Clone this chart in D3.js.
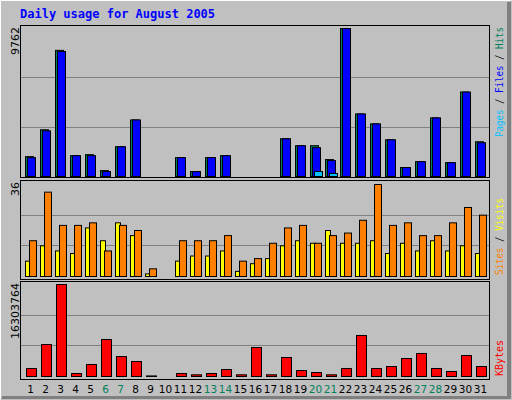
<!DOCTYPE html>
<html><head><meta charset="utf-8">
<script src="https://cdn.jsdelivr.net/npm/d3@7"></script>
<style>body{margin:0}svg{display:block}</style></head>
<body><svg id="c" width="512" height="400"></svg>
<script>
const days = d3.range(1, 32);
const weekends = [6,7,13,14,20,21,27,28];
const hits  = [1310,3080,8320,1375,1440,390,1965,3730,0,null,1245,330,1245,1375,0,0,0,2490,2030,2030,1115,9762,4125,3470,2420,590,980,3865,915,5570,2290];
const files = [1245,3015,8250,1375,1375,330,1965,3730,0,null,1245,330,1245,1375,0,0,0,2490,2030,1900,1050,9762,4125,3470,2420,590,980,3865,915,5570,2230];
const pages = [0,0,0,0,0,0,0,0,0,null,0,0,0,0,0,0,0,0,0,330,200,0,0,0,0,0,0,0,0,0,0];
const visitsY = [6,12,10,9,19,14,21,16,1,null,6,8,8,10,2,5,7,12,14,13,18,13,13,14,9,13,10,14,10,12,9];
const sitesO  = [14,33,20,20,21,10,20,18,3,null,14,14,14,16,6,7,13,19,20,13,16,17,22,36,20,21,16,16,21,27,24];
const kbytes  = [1420000,5670000,16303764,530000,2130000,6560000,3540000,2660000,100000,null,530000,300000,530000,1240000,300000,5140000,300000,3370000,1060000,710000,300000,1420000,7270000,1420000,1770000,3190000,4080000,1420000,890000,3720000,1770000];

const svg = d3.select("#c");
svg.append("rect").attr("width",512).attr("height",400).attr("fill","#C0C0C0");
svg.append("path").attr("d","M0.5,399.5V0.5H511.5").attr("stroke","#fff").attr("fill","none");
svg.append("path").attr("d","M1.5,398.5H510.5V1.5").attr("stroke","#808080").attr("fill","none");
svg.append("rect").attr("x",507).attr("y",2).attr("width",4).attr("height",396).attr("fill","#808080");
svg.append("rect").attr("x",2).attr("y",396).attr("width",508).attr("height",3).attr("fill","#808080");
svg.append("text").attr("x",20).attr("y",18).text("Daily usage for August 2005")
  .attr("font-family","DejaVu Sans Mono").attr("font-weight","bold").attr("font-size",12).attr("fill","#0000FF");

const x = d3.scaleBand().domain(days).range([22,487]).paddingInner(0);
const panels = [{y0:25,y1:177},{y0:180,y1:279},{y0:281,y1:379}];
panels.forEach(p=>{
  svg.append("rect").attr("x",20.5).attr("y",p.y0+0.5).attr("width",469).attr("height",p.y1-p.y0)
   .attr("fill","#C0C0C0").attr("stroke","#000");
});
function grid(base,top){
  [1/3,2/3].forEach(f=>{
    const yy=Math.round(base-(base-top)*f)+0.5;
    svg.append("line").attr("x1",21).attr("x2",489).attr("y1",yy).attr("y2",yy).attr("stroke","#808080");
  });
}
function bars(data, scale, dx, w, color){
  svg.append("g").selectAll("rect").data(days.filter(d=>data[d-1]!=null)).join("rect")
    .attr("x",d=>x(d)+dx+0.5).attr("width",w)
    .attr("y",d=>scale(data[d-1])+0.5).attr("height",d=>Math.max(0,scale(0)-scale(data[d-1])))
    .attr("fill",color).attr("stroke","#000");
}
const yT = d3.scaleLinear().domain([0,9762]).range([176,28]);
grid(176,28);
bars(hits,yT,3,8,"#00805C");
bars(files,yT,5,8,"#0000FF");
bars(pages,yT,7,8,"#00C0FF");
const yM = d3.scaleLinear().domain([0,36]).range([276,184]);
grid(276,184);
bars(visitsY,yM,3,5,"#FFFF00");
bars(sitesO,yM,7,7,"#FF8000");
const yB = d3.scaleLinear().domain([0,16303764]).range([376,284]);
grid(376,284);
bars(kbytes,yB,4,10,"#FF0000");
function leftLab(t,yTop){
  svg.append("text").attr("transform",`translate(19,${yTop}) rotate(-90)`).attr("text-anchor","end")
   .attr("font-family","DejaVu Sans").attr("font-size",11).attr("fill","#000").text(t);
}
leftLab("9762",27); leftLab("36",182); leftLab("16303764",283);
function rightLab(parts,yBottom,len){
  const t=svg.append("text").attr("transform",`translate(503,${yBottom}) rotate(-90)`)
   .attr("font-family","DejaVu Sans Mono").attr("font-size",11)
   .attr("textLength",len).attr("lengthAdjust","spacingAndGlyphs");
  parts.forEach(p=>t.append("tspan").attr("fill",p[1]).text(p[0]));
}
rightLab([["Pages","#00C0FF"],[" / ","#000"],["Files","#0000FF"],[" / ","#000"],["Hits","#00805C"]],137,110);
rightLab([["Sites","#FF8000"],[" / ","#000"],["Visits","#FFFF00"]],275,77);
rightLab([["KBytes","#FF0000"]],376,36);
svg.append("g").selectAll("text").data(days).join("text")
  .attr("x",d=>x(d)+x.bandwidth()/2+1).attr("y",393).attr("text-anchor","middle")
  .attr("font-family","DejaVu Sans").attr("font-size",10.5)
  .attr("fill",d=>weekends.includes(d)?"#00805C":"#000").text(d=>d);
</script></body></html>
